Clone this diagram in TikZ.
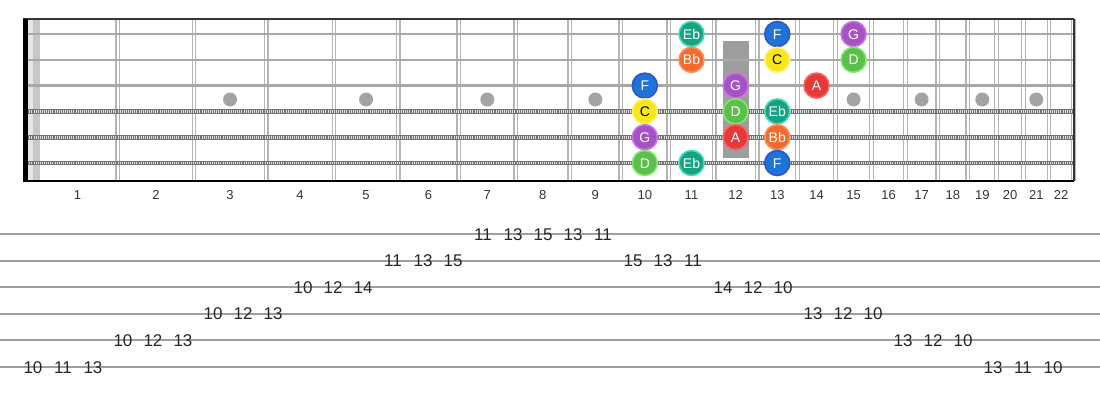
\documentclass[tikz,border=0pt]{standalone}
\usepackage{fontspec}
\setmainfont{Liberation Sans}
\pgfmathdeclarefunction{fx}{1}{\pgfmathparse{37.2+1439.8*(1-exp(-(#1)*0.0577623))}}
\pgfmathdeclarefunction{fm}{1}{\pgfmathparse{(fx(#1-1)+fx(#1))/2}}
\pgfmathdeclarefunction{sy}{1}{\pgfmathparse{34+(#1-1)*25.8}}
\definecolor{fretc}{HTML}{B4B4B4}
\definecolor{strc}{HTML}{A8A8A8}
\definecolor{dotc}{HTML}{A3A3A3}
\definecolor{tabc}{HTML}{9E9E9E}
\definecolor{ebF}{HTML}{17A383}\definecolor{ebD}{HTML}{45DDB5}
\definecolor{fF}{HTML}{1E74D6}\definecolor{fD}{HTML}{2F55D0}
\definecolor{gF}{HTML}{A552C4}\definecolor{gD}{HTML}{C874E6}
\definecolor{bbF}{HTML}{F26B2D}\definecolor{bbD}{HTML}{FF8D55}
\definecolor{cF}{HTML}{F8E51E}\definecolor{cD}{HTML}{FFF37A}
\definecolor{dF}{HTML}{5CBF4B}\definecolor{dD}{HTML}{7FEA69}
\definecolor{aF}{HTML}{E53A3A}\definecolor{aD}{HTML}{FF6060}
\begin{document}
\begin{tikzpicture}[x=1pt,y=-1pt,
  notebase/.style={circle,minimum size=25pt,inner sep=0pt,line width=1.6pt,font=\fontsize{14}{14}\selectfont,text=white,text height=10pt,text depth=0pt},
  nEb/.style={notebase,fill=ebF,draw=ebD},
  nF/.style={notebase,fill=fF,draw=fD},
  nG/.style={notebase,fill=gF,draw=gD},
  nBb/.style={notebase,fill=bbF,draw=bbD},
  nC/.style={notebase,fill=cF,draw=cD,text=black},
  nD/.style={notebase,fill=dF,draw=dD},
  nA/.style={notebase,fill=aF,draw=aD},
  fretnum/.style={font=\fontsize{13}{13}\selectfont,text=black!80,inner sep=0pt,text height=9.3pt,text depth=0pt},
  tabnum/.style={font=\fontsize{17}{17}\selectfont,text=black!85,inner sep=0pt,text height=12.2pt,text depth=0pt},
  fretline/.style={draw=fretc,line width=1.3pt},
  plainstr/.style={draw=strc,line width=2.6pt},
  woundstr/.style={draw=black!55,line width=4.6pt},
  woundtex/.style={draw=white!75!gray,line width=2.6pt,dash pattern=on 1pt off 1.1pt},
  tabline/.style={draw=tabc,line width=2pt}]
\useasboundingbox (0,0) rectangle (1100,400);
% 12th fret block
\pgfmathsetmacro{\bx}{fm(12)}
\fill[fill=black!38] (\bx-13,41) rectangle (\bx+13,158);
% inlay dots
\foreach \f in {3,5,7,9,15,17,19,21}{
  \pgfmathsetmacro{\dx}{fm(\f)}
  \fill[dotc] (\dx,99.5) circle (7);
}
% frets
\foreach \f in {1,...,22}{
  \pgfmathsetmacro{\xx}{fx(\f)}
  \draw[fretline] (\xx-1.8,19) -- (\xx-1.8,181);
  \draw[fretline] (\xx+1.8,19) -- (\xx+1.8,181);
}
% nut band
\fill[black!10] (27,19) rectangle (33,181);
\fill[black!22] (33,19) rectangle (40,181);
% strings
\foreach \s in {1,2,3}{
  \pgfmathsetmacro{\yy}{sy(\s)}
  \draw[plainstr] (23,\yy) -- (1074,\yy);
}
\foreach \s in {4,5,6}{
  \pgfmathsetmacro{\yy}{sy(\s)}
  \draw[woundstr] (23,\yy) -- (1074,\yy);
  \draw[woundtex] (23,\yy) -- (1074,\yy);
}
% borders
\draw[black!80,line width=2pt] (23,19) -- (1074,19);
\draw[black,line width=2.2pt] (23,181) -- (1074,181);
\draw[black!80,line width=2pt] (1074,19) -- (1074,181);
\fill[black] (23,19) rectangle (28,181);
% notes
\foreach \nm/\s/\f/\lab/\st in {
  e1/1/11/Eb/nEb, f1/1/13/F/nF, g1/1/15/G/nG,
  bb2/2/11/Bb/nBb, c2/2/13/C/nC, d2/2/15/D/nD,
  f3/3/10/F/nF, g3/3/12/G/nG, a3/3/14/A/nA,
  c4/4/10/C/nC, d4/4/12/D/nD, eb4/4/13/Eb/nEb,
  g5/5/10/G/nG, a5/5/12/A/nA, bb5/5/13/Bb/nBb,
  d6/6/10/D/nD, eb6/6/11/Eb/nEb, f6/6/13/F/nF}{
  \pgfmathsetmacro{\nx}{fm(\f)}
  \pgfmathsetmacro{\ny}{sy(\s)}
  \node[\st] (\nm) at (\nx,\ny) {\lab};
}
% fret numbers
\foreach \f in {1,...,22}{
  \pgfmathsetmacro{\nx}{fm(\f)}
  \node[fretnum] (fn\f) at (\nx,194.5) {\f};
}
% tab lines
\foreach \r in {1,...,6}{
  \pgfmathsetmacro{\ty}{234+(\r-1)*26.6}
  \draw[tabline] (0,\ty) -- (1100,\ty);
}
% tab numbers
\foreach \k/\r/\v in {0/6/10,1/6/11,2/6/13,3/5/10,4/5/12,5/5/13,6/4/10,7/4/12,8/4/13,
  9/3/10,10/3/12,11/3/14,12/2/11,13/2/13,14/2/15,15/1/11,16/1/13,17/1/15,18/1/13,19/1/11,
  20/2/15,21/2/13,22/2/11,23/3/14,24/3/12,25/3/10,26/4/13,27/4/12,28/4/10,
  29/5/13,30/5/12,31/5/10,32/6/13,33/6/11,34/6/10}{
  \pgfmathsetmacro{\tx}{33+30*\k}
  \pgfmathsetmacro{\ty}{234+(\r-1)*26.6}
  \node[tabnum] (t\k) at (\tx,\ty) {\v};
}
\end{tikzpicture}
\end{document}
